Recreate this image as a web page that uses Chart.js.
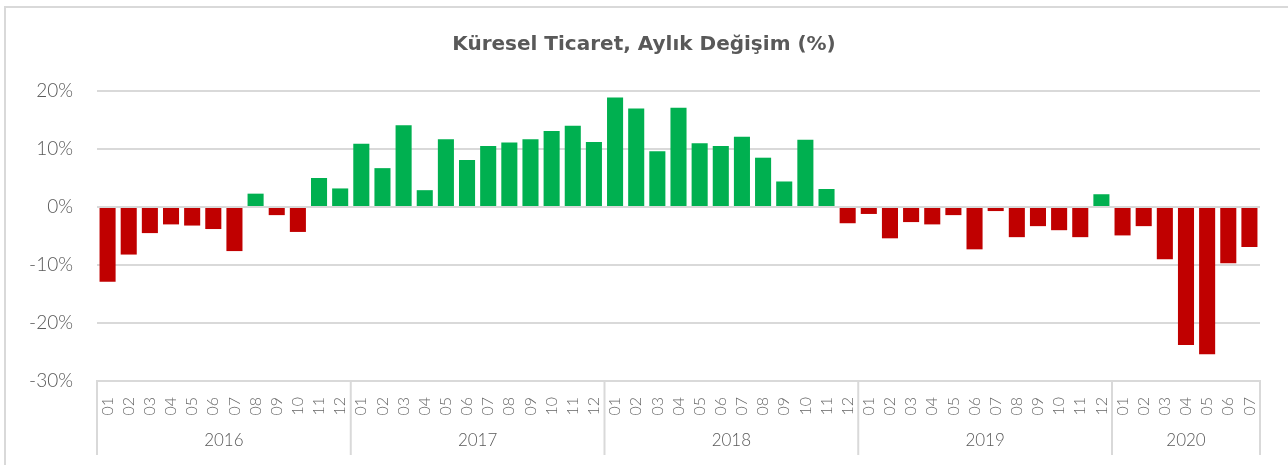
<!DOCTYPE html>
<html>
<head>
<meta charset="utf-8">
<script src="https://cdn.jsdelivr.net/npm/chart.js@4.4.0/dist/chart.umd.min.js"></script>
<style>
  html, body { margin: 0; padding: 0; background: #fff; }
  #wrap { width: 1288px; height: 465px; }
</style>
</head>
<body>
<div id="wrap"><canvas id="chart" width="1288" height="465"></canvas></div>
<script>
// data (%)
const years = ['2016', '2017', '2018', '2019', '2020'];
const months = ['01', '02', '03', '04', '05', '06', '07', '08', '09', '10', '11', '12'];
const v2016 = [-12.9, -8.2, -4.5, -3.0, -3.2, -3.8, -7.6, 2.3, -1.4, -4.3, 5.0, 3.2];
const v2017 = [10.9, 6.7, 14.1, 2.9, 11.7, 8.1, 10.5, 11.1, 11.7, 13.1, 14.0, 11.2];
const v2018 = [18.9, 17.0, 9.6, 17.1, 11.0, 10.5, 12.1, 8.5, 4.4, 11.6, 3.1, -2.8];
const v2019 = [-1.2, -5.4, -2.6, -3.0, -1.4, -7.3, -0.7, -5.2, -3.3, -4.0, -5.2, 2.2];
const v2020 = [-4.9, -3.3, -9.0, -23.8, -25.4, -9.7, -6.9];
const yMin = -30, yMax = 20, yStep = 10;

const perYear = [v2016, v2017, v2018, v2019, v2020];
let labels = [];
let values = [];
perYear.forEach(function(arr) {
    arr.forEach(function(v, i) {
        labels.push(months[i]);
        values.push(v);
    });
});
const colors = values.map(v => v >= 0 ? '#00b050' : '#c00000');

// outer frame (only top/left edges are visible in the crop)
const frame = {
    id: 'frame',
    beforeDraw(chart) {
        const ctx = chart.ctx;
        ctx.save();
        ctx.strokeStyle = '#d9d9d9';
        ctx.lineWidth = 2;
        ctx.strokeRect(5, 7, 1400, 600);
        ctx.restore();
    }
};

// second level of the x axis: years + separators
const yearGroups = {
    id: 'yearGroups',
    afterDraw(chart) {
        const x = chart.scales.x;
        const ctx = chart.ctx;
        const half = (x.getPixelForValue(1) - x.getPixelForValue(0)) / 2;
        const top = chart.chartArea.bottom;
        ctx.save();
        ctx.strokeStyle = '#d9d9d9';
        ctx.lineWidth = 2;
        ctx.fillStyle = '#595959';
        ctx.font = '300 17px Lato';
        ctx.textAlign = 'center';
        ctx.textBaseline = 'middle';
        let start = 0;
        perYear.forEach(function(arr, g) {
            const end = start + arr.length - 1;
            const left = x.getPixelForValue(start) - half;
            const right = x.getPixelForValue(end) + half;
            ctx.beginPath();
            ctx.moveTo(left, top);
            ctx.lineTo(left, top + 74);
            if (g == perYear.length - 1) {
                ctx.moveTo(right, top);
                ctx.lineTo(right, top + 74);
            }
            ctx.stroke();
            ctx.fillText(years[g], (left + right) / 2, top + 60);
            start = end + 1;
        });
        ctx.restore();
    }
};

new Chart(document.getElementById('chart').getContext('2d'), {
    type: 'bar',
    data: {
        labels: labels,
        datasets: [{
            data: values,
            backgroundColor: colors,
            categoryPercentage: 1,
            barPercentage: 0.76
        }]
    },
    options: {
        responsive: false,
        animation: false,
        layout: { padding: { left: 28, right: 28, top: 0, bottom: 0 } },
        plugins: {
            legend: { display: false },
            tooltip: { enabled: false },
            title: {
                display: true,
                text: 'Küresel Ticaret, Aylık Değişim (%)',
                color: '#595959',
                font: { family: 'DejaVu Sans', size: 20, weight: 'bold' },
                padding: { top: 33, bottom: 34 }
            }
        },
        scales: {
            y: {
                min: yMin,
                max: yMax,
                afterFit(s) { s.width = 69; },
                ticks: {
                    stepSize: yStep,
                    padding: 24,
                    color: '#595959',
                    font: { family: 'Lato', size: 19, weight: '300' },
                    callback: v => v + '%'
                },
                grid: { color: '#d9d9d9', lineWidth: 2, drawTicks: false },
                border: { display: false }
            },
            x: {
                afterFit(s) { s.height = 84; },
                ticks: {
                    minRotation: 90,
                    maxRotation: 90,
                    autoSkip: false,
                    padding: 8,
                    color: '#666666',
                    font: { family: 'Lato', size: 16, weight: '300' }
                },
                grid: { display: false },
                border: { display: true, color: '#d9d9d9', width: 2 }
            }
        }
    },
    plugins: [frame, yearGroups]
});
</script>
</body>
</html>
